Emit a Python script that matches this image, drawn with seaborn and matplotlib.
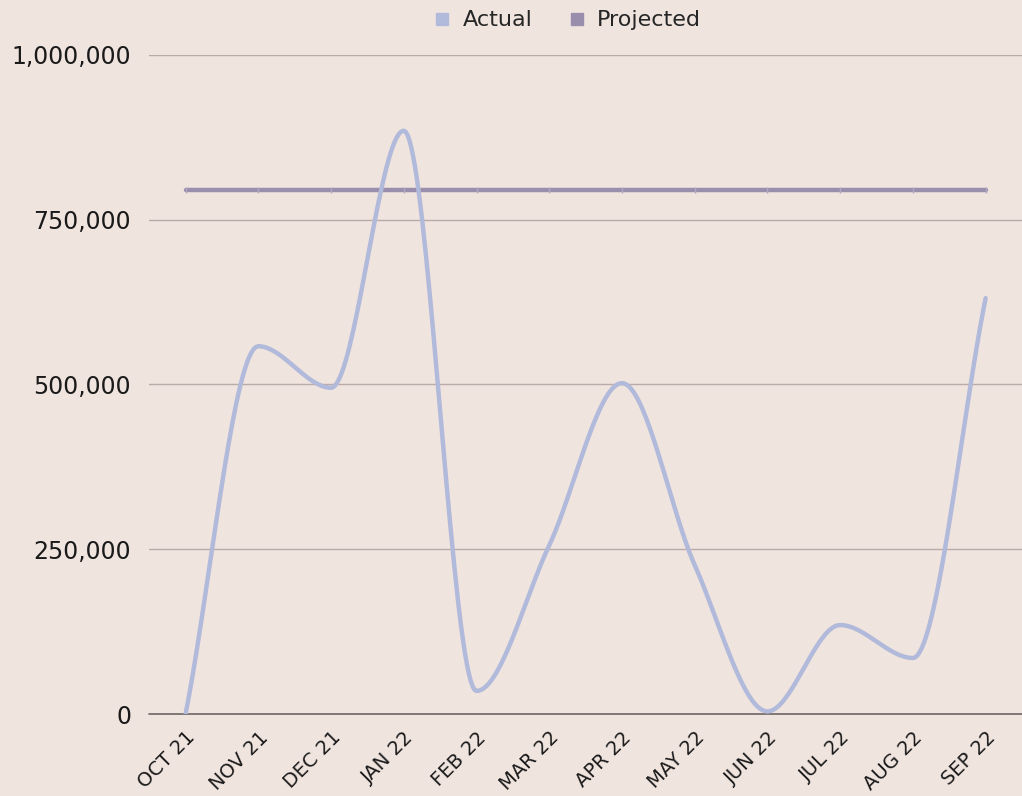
import matplotlib
matplotlib.use('Agg')
import matplotlib.pyplot as plt
import matplotlib.ticker as mticker
from matplotlib.lines import Line2D
import pandas as pd
import seaborn as sns
import numpy as np

# data
months = ['OCT 21', 'NOV 21', 'DEC 21', 'JAN 22', 'FEB 22', 'MAR 22',
          'APR 22', 'MAY 22', 'JUN 22', 'JUL 22', 'AUG 22', 'SEP 22']
actual = [0, 558000, 495000, 885000, 35000, 256000,
          502000, 226000, 4000, 135000, 85000, 631000]
projected = [795000] * 12

# style
bg_color = '#F0E4DF'
actual_color = '#B1BADA'
proj_color = '#9A8EAD'
grid_color = '#B9ABA7'
text_color = '#1A1A1A'

sns.set_theme(style='white')
plt.rcParams['font.family'] = ['DejaVu Sans']


def smooth(xs, ys, steps=40):  # monotone cubic curve through the points, for display only
    xs = np.asarray(xs, float)
    ys = np.asarray(ys, float)
    h = np.diff(xs)
    d = np.diff(ys) / h
    m = np.zeros_like(ys)
    m[0], m[-1] = d[0], d[-1]
    for i in range(1, len(ys) - 1):
        if d[i - 1] * d[i] <= 0:
            m[i] = 0
        else:
            m[i] = 2 / (1 / d[i - 1] + 1 / d[i])
    out_x, out_y = [], []
    t = np.linspace(0, 1, steps)
    for i in range(len(xs) - 1):
        h00 = 2 * t ** 3 - 3 * t ** 2 + 1
        h10 = t ** 3 - 2 * t ** 2 + t
        h01 = -2 * t ** 3 + 3 * t ** 2
        h11 = t ** 3 - t ** 2
        out_x.extend(xs[i] + t * h[i])
        out_y.extend(h00 * ys[i] + h10 * h[i] * m[i] + h01 * ys[i + 1] + h11 * h[i] * m[i + 1])
    return np.array(out_x), np.array(out_y)


idx = np.arange(len(months))
sx, sy = smooth(idx, actual)
df_curve = pd.DataFrame({'x': sx, 'y': sy})
df_proj = pd.DataFrame({'x': idx, 'y': projected})

fig = plt.figure(figsize=(10.22, 7.96), dpi=100, facecolor=bg_color)
ax = fig.add_axes([0.146, 0.103, 0.854, 0.828])
ax.set_facecolor(bg_color)

sns.lineplot(data=df_proj, x='x', y='y', color=proj_color, linewidth=3.2,
             marker='|', markersize=5, markeredgecolor='#B3A8C2', markeredgewidth=1,
             solid_capstyle='round', ax=ax)
sns.lineplot(data=df_curve, x='x', y='y', color=actual_color, linewidth=3.2,
             solid_capstyle='round', sort=False, ax=ax)

ax.set_xlim(-0.5, len(months) - 0.5)
ax.set_ylim(0, 1000000)
ax.set_yticks([0, 250000, 500000, 750000, 1000000])
ax.yaxis.set_major_formatter(mticker.FuncFormatter(lambda v, p: f'{int(v):,}'))
ax.set_xticks(idx)
ax.set_xticklabels(months, rotation=45, ha='right', rotation_mode='anchor')
ax.tick_params(axis='x', labelsize=14, colors=text_color, length=0, pad=10)
ax.tick_params(axis='y', labelsize=17, colors=text_color, length=0, pad=13)
ax.set_xlabel('')
ax.set_ylabel('')

for v in [250000, 500000, 750000, 1000000]:
    ax.axhline(v, color=grid_color, linewidth=1, zorder=0)
ax.axhline(0, color='#6E6462', linewidth=1.2, zorder=1, clip_on=False)
for s in ax.spines.values():
    s.set_visible(False)

handles = [Line2D([], [], linestyle='none', marker='s', markersize=8, color=actual_color),
           Line2D([], [], linestyle='none', marker='s', markersize=8, color=proj_color)]
fig.legend(handles, ['Actual', 'Projected'], loc='upper center', bbox_to_anchor=(0.555, 1.012),
           ncol=2, frameon=False, fontsize=16, handlelength=0.8, handletextpad=0.5,
           columnspacing=1.6)

plt.savefig('out.png', dpi=100, facecolor=bg_color)
plt.close()
